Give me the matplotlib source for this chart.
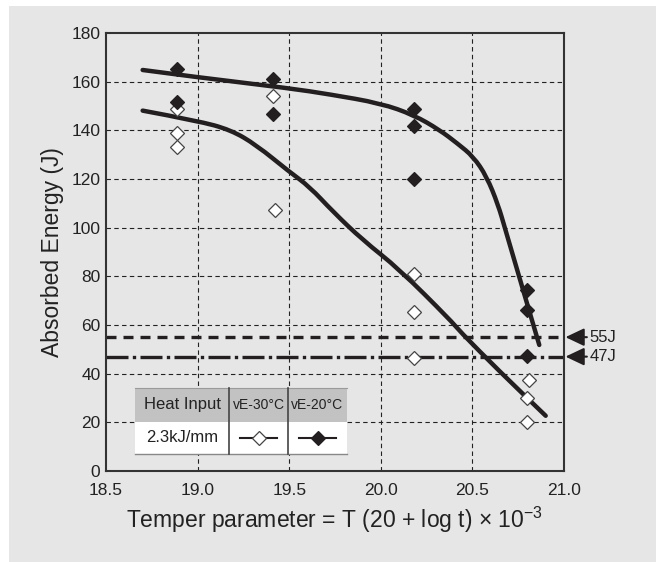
import matplotlib.pyplot as plt
from matplotlib.patches import Rectangle, PathPatch
from matplotlib.path import Path
from matplotlib.lines import Line2D
from matplotlib import font_manager

plt.rcParams['font.family'] = ['Liberation Sans', 'DejaVu Sans']
plt.rcParams['mathtext.fontset'] = 'custom'
plt.rcParams['mathtext.rm'] = 'Liberation Sans'

# measured points, open diamonds = vE-30°C, filled diamonds = vE-20°C
x_ve30 = [18.89, 18.89, 18.89, 19.41, 19.42, 20.18, 20.18, 20.18, 20.81, 20.80, 20.80]
y_ve30 = [148.6, 138.8, 133.0, 154.3, 107.3, 81.0, 65.2, 46.3, 37.4, 30.1, 20.0]

x_ve20 = [18.89, 18.89, 19.41, 19.41, 20.18, 20.18, 20.18, 20.80, 20.80, 20.80]
y_ve20 = [165.2, 151.8, 161.1, 146.9, 148.7, 141.8, 119.9, 74.4, 66.2, 47.3]

# trend curves
curve20_x = [18.70, 19.00, 19.50, 19.72, 20.00, 20.18, 20.32, 20.42, 20.505, 20.578,
             20.640, 20.680, 20.740, 20.800, 20.865]
curve20_y = [164.8, 161.8, 157.3, 154.8, 151.1, 146.3, 140.2, 134.5, 129.2, 121.0,
             109.5, 99.2, 83.8, 68.4, 51.8]

curve30_x = [18.70, 19.00, 19.18, 19.32, 19.50, 19.61, 19.74, 19.90, 20.10, 20.38,
             20.43, 20.65, 20.90]
curve30_y = [148.1, 143.9, 140.2, 134.0, 123.0, 116.9, 106.5, 95.0, 83.0, 62.0,
             57.5, 40.8, 22.7]

limits = [55, 47]
limit_labels = ['55J', '47J']

x_ticks = [18.5, 19.0, 19.5, 20.0, 20.5, 21.0]
y_ticks = [0, 20, 40, 60, 80, 100, 120, 140, 160, 180]

ink = '#231f20'
panel = '#e6e6e6'


def smooth_path(xs, ys):
    # quadratic bezier through midpoints, read points act as control points
    verts = [(xs[0], ys[0])]
    codes = [Path.MOVETO]
    for i in range(1, len(xs) - 1):
        mx = (xs[i] + xs[i + 1]) / 2
        my = (ys[i] + ys[i + 1]) / 2
        verts += [(xs[i], ys[i]), (mx, my)]
        codes += [Path.CURVE3, Path.CURVE3]
    verts.append((xs[-1], ys[-1]))
    codes.append(Path.LINETO)
    return Path(verts, codes)


narrow = 'Liberation Sans Narrow'
names = {f.name for f in font_manager.fontManager.ttflist}
narrow_ok = narrow in names

fig = plt.figure(figsize=(6.68, 5.62), dpi=100)
fig.patches.append(Rectangle((9 / 668, 0), 647 / 668, 556 / 562, transform=fig.transFigure,
                             facecolor=panel, edgecolor='none', zorder=-10))

ax = fig.add_axes([106 / 668, 1 - 471 / 562, 458 / 668, 438 / 562])
ax.set_facecolor(panel)
ax.set_xlim(18.5, 21.0)
ax.set_ylim(0, 180)
ax.set_xticks(x_ticks)
ax.set_xticklabels(['%.1f' % v for v in x_ticks])
ax.set_yticks(y_ticks)
ax.tick_params(length=0, labelsize=12.5, colors='#222222')
ax.tick_params(axis='x', pad=8.5)
ax.tick_params(axis='y', pad=4)
for s in ax.spines.values():
    s.set_color('#333333')
    s.set_linewidth(1.5)

# grid
for gx in x_ticks[1:-1]:
    ax.axvline(gx, color='#222222', lw=0.8, ls=(0, (4, 3)), zorder=1)
for gy in y_ticks[1:-1]:
    ax.axhline(gy, color='#222222', lw=0.8, ls=(0, (4, 3)), zorder=1)

# limit lines
ax.axhline(limits[0], color=ink, lw=2.4, ls=(0, (3, 2.1)), zorder=2)
ax.axhline(limits[1], color=ink, lw=2.4, ls=(0, (6.6, 1.3, 1.0, 1.3)), zorder=2)
for v, lab in zip(limits, limit_labels):
    ax.annotate(lab, xy=(21.008, v), xytext=(21.14, v), textcoords='data',
                va='center', ha='left', fontsize=12, color='#222222',
                annotation_clip=False,
                arrowprops=dict(arrowstyle='-|>,head_length=0.95,head_width=0.45',
                                color=ink, lw=1.5, shrinkA=0, shrinkB=0))

# curves
for cxs, cys in [(curve20_x, curve20_y), (curve30_x, curve30_y)]:
    ax.add_patch(PathPatch(smooth_path(cxs, cys), facecolor='none', edgecolor=ink,
                           lw=3.2, capstyle='round', joinstyle='round', zorder=3))

# points
ax.plot(x_ve30, y_ve30, 'D', ms=7.5, mfc='white', mec='#444444', mew=0.9, zorder=4)
ax.plot(x_ve20, y_ve20, 'D', ms=7.5, mfc=ink, mec=ink, mew=0.9, zorder=4)

ax.set_xlabel('Temper parameter = T (20 + log t) \u00d7 10$^{\\mathregular{-3}}$',
              fontsize=16.5, color='#222222', labelpad=5)
ax.set_ylabel('Absorbed Energy (J)', fontsize=16.5, color='#222222', labelpad=5)

# legend table
cx = [0.0633, 0.2686, 0.3974, 0.5262]
cy = [0.0388, 0.1119, 0.1895]
tr = ax.transAxes
ax.add_patch(Rectangle((cx[0], cy[1]), cx[3] - cx[0], cy[2] - cy[1], transform=tr,
                       facecolor='#c2c2c2', edgecolor='none', zorder=5))
ax.add_patch(Rectangle((cx[0], cy[0]), cx[3] - cx[0], cy[1] - cy[0], transform=tr,
                       facecolor='white', edgecolor='none', zorder=5))
ax.add_line(Line2D([cx[0], cx[3]], [cy[0], cy[0]], transform=tr, color='#888888', lw=1, zorder=6))
ax.add_line(Line2D([cx[0], cx[3]], [cy[2], cy[2]], transform=tr, color='#9a9a9a', lw=0.8, zorder=6))
for xx in cx[1:3]:
    ax.add_line(Line2D([xx, xx], [cy[0], cy[2]], transform=tr, color='#444444', lw=1.2, zorder=6))

hy = (cy[1] + cy[2]) / 2
dy = (cy[0] + cy[1]) / 2
if narrow_ok:
    small = dict(family=[narrow, 'DejaVu Sans'], fontsize=11.5)
else:
    small = dict(fontsize=10)
ax.text((cx[0] + cx[1]) / 2, hy, 'Heat Input', transform=tr, ha='center', va='center',
        fontsize=12, color='#222222', zorder=7)
ax.text((cx[1] + cx[2]) / 2, hy, 'vE-30\u00b0C', transform=tr, ha='center', va='center',
        color='#222222', zorder=7, **small)
ax.text((cx[2] + cx[3]) / 2, hy, 'vE-20\u00b0C', transform=tr, ha='center', va='center',
        color='#222222', zorder=7, **small)
ax.text((cx[0] + cx[1]) / 2, dy, '2.3kJ/mm', transform=tr, ha='center', va='center',
        fontsize=12, color='#222222', zorder=7)

for i, (fc, ec) in enumerate([('white', '#444444'), (ink, ink)]):
    mid = (cx[1 + i] + cx[2 + i]) / 2
    half = 0.041
    ax.add_line(Line2D([mid - half, mid + half], [dy, dy], transform=tr, color=ink, lw=1.5, zorder=7))
    ax.add_line(Line2D([mid], [dy], transform=tr, marker='D', ms=7.5, mfc=fc, mec=ec,
                       mew=0.9, zorder=8))

fig.savefig('out.png', dpi=100)
